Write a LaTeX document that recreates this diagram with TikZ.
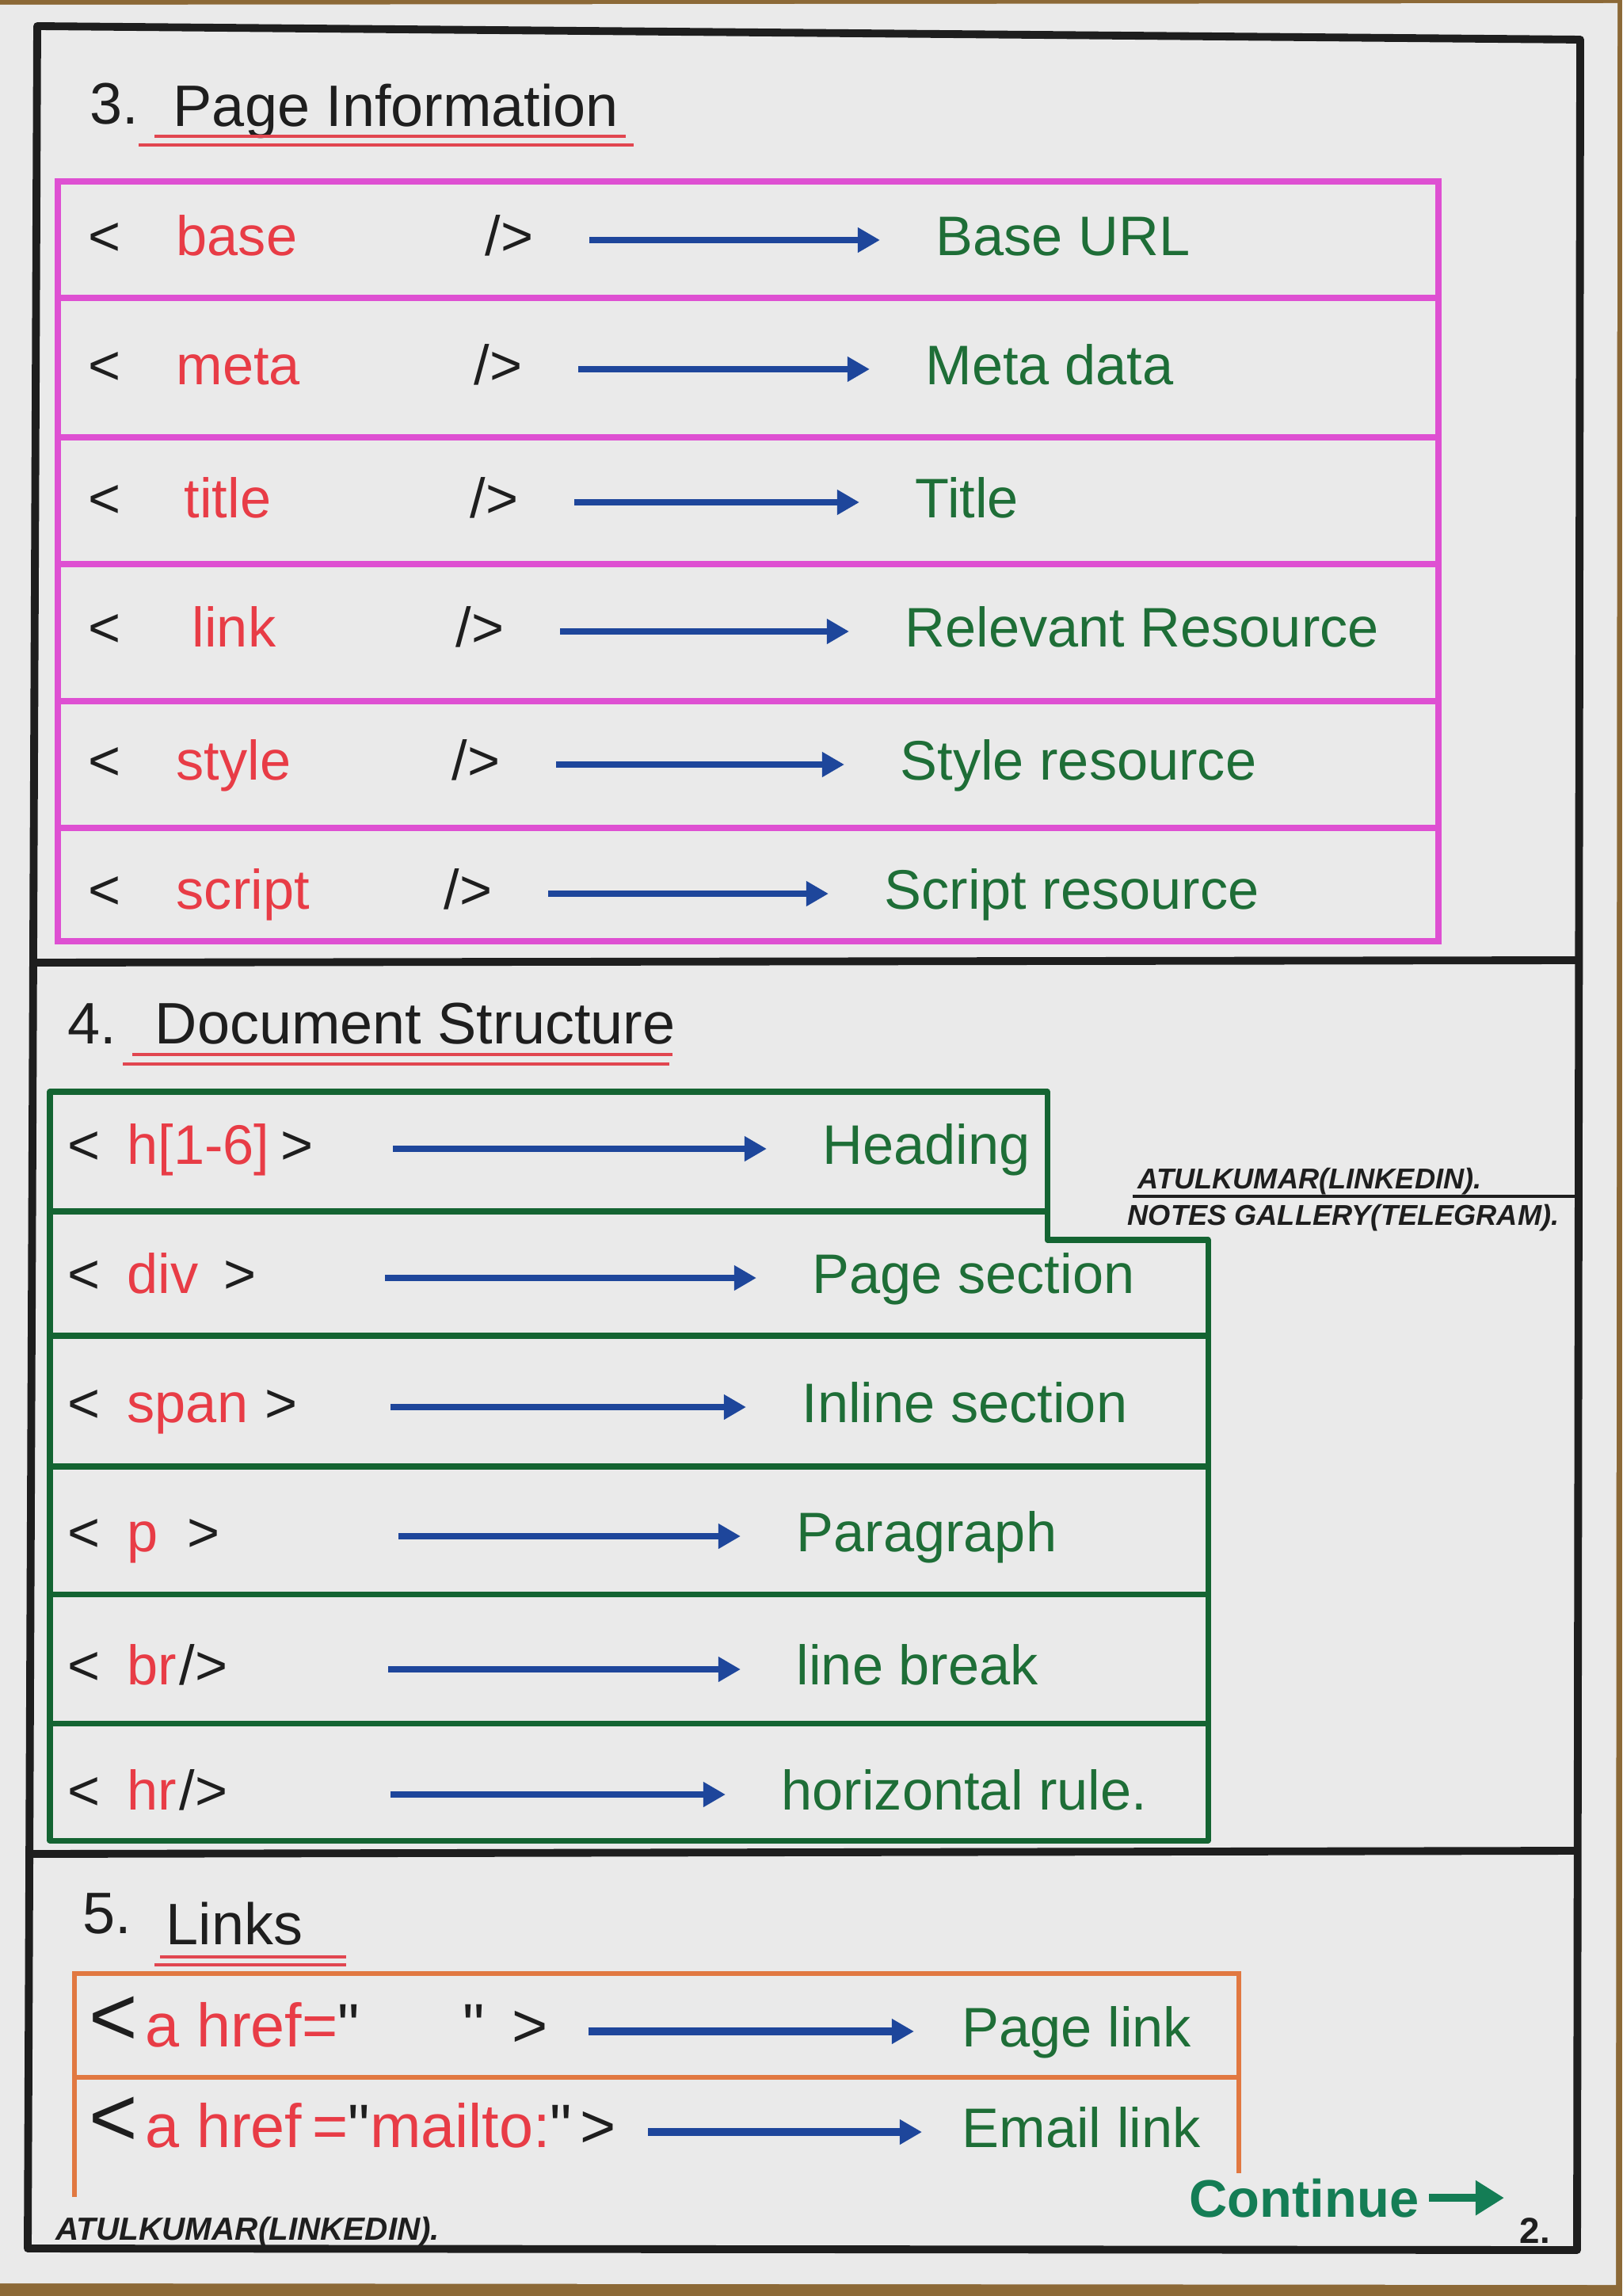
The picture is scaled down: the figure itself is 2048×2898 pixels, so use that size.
\documentclass[tikz,border=0pt]{standalone}
\usepackage{fontspec}
\setmainfont{Liberation Sans}[Ligatures=TeXOff]
\usetikzlibrary{arrows.meta,positioning}

\definecolor{wood}{RGB}{140,105,55}
\definecolor{paper}{RGB}{234,234,234}
\definecolor{ink}{RGB}{30,30,30}
\definecolor{pinkink}{RGB}{222,80,210}
\definecolor{greenink}{RGB}{20,100,50}
\definecolor{greendesc}{RGB}{30,110,55}
\definecolor{redink}{RGB}{232,60,70}
\definecolor{blueink}{RGB}{30,70,155}
\definecolor{orangeink}{RGB}{225,120,65}
\definecolor{contgreen}{RGB}{20,125,85}
\definecolor{redline}{RGB}{225,70,80}

\def\rowfont{\fontsize{20}{24}\selectfont}
\def\bigrowfont{\fontsize{22}{26}\selectfont}
\def\hdfont{\fontsize{21}{25}\selectfont}
\def\signfont{\fontsize{10.3}{12}\selectfont\bfseries\itshape}
\def\tu{0.7cm}

\tikzstyle{border} = [draw=ink,line width=2.8pt,line join=round]
\tikzstyle{pinkrule} = [draw=pinkink,line width=2.3pt]
\tikzstyle{greenrule} = [draw=greenink,line width=2pt,line join=round]
\tikzstyle{orangerule} = [draw=orangeink,line width=1.8pt]
\tikzstyle{brk} = [anchor=west,inner sep=0,text height=15pt,text depth=4pt,font=\rowfont,color=ink]
\tikzstyle{tagtext} = [brk,color=redink]
\tikzstyle{desc} = [brk,color=greendesc]
\tikzstyle{tagarrow} = [-{Triangle[length=0.28cm,width=0.3cm]},line width=2.4pt,color=blueink,shorten <=\tu,shorten >=\tu]
\tikzstyle{heading} = [anchor=base west,inner sep=0,font=\hdfont,color=ink]
\tikzstyle{underl} = [draw=redline,line width=1.1pt]
\tikzstyle{sign} = [anchor=base west,inner sep=0,font=\signfont,color=ink]

\begin{document}
\begin{tikzpicture}[x=0.01cm,y=-0.01cm]
\useasboundingbox (0,0) rectangle (2048,2898);
\fill[wood] (0,0) rectangle (2048,2898);
\fill[paper] (0,6) -- (2042,4) -- (2040,2884) -- (0,2882) -- cycle;

% page frame and section rules
\draw[border] (47,33) -- (1995,50) -- (1991,2840) -- (35,2838) -- cycle;
\draw[border] (43,1215) -- (1993,1212);
\draw[border] (39,2340) -- (1992,2336);

% 3. Page Information
\node[heading] (n3) at (113,157) {3.};
\node[heading] (h3) at (218,160) {Page Information};
\draw[underl] (195,172) -- (790,172);
\draw[underl] (175,183) -- (800,183);

\draw[pinkrule] (73,229) rectangle (1816,1188);
\draw[pinkrule] (73,376) -- (1816,376);
\draw[pinkrule] (73,552) -- (1816,552);
\draw[pinkrule] (73,712) -- (1816,712);
\draw[pinkrule] (73,885) -- (1816,885);
\draw[pinkrule] (73,1045) -- (1816,1045);

\node[brk] (p1l) at (111,303) {<};
\node[tagtext] (p1t) at (222,303) {base};
\node[brk] (p1e) at (612,303) {/>};
\node[desc] (p1d) at (1181,303) {Base URL};
\draw[tagarrow] (p1e) -- (p1d);

\node[brk] (p2l) at (111,466) {<};
\node[tagtext] (p2t) at (222,466) {meta};
\node[brk] (p2e) at (598,466) {/>};
\node[desc] (p2d) at (1168,466) {Meta data};
\draw[tagarrow] (p2e) -- (p2d);

\node[brk] (p3l) at (111,634) {<};
\node[tagtext] (p3t) at (232,634) {title};
\node[brk] (p3e) at (593,634) {/>};
\node[desc] (p3d) at (1155,634) {Title};
\draw[tagarrow] (p3e) -- (p3d);

\node[brk] (p4l) at (111,797) {<};
\node[tagtext] (p4t) at (242,797) {link};
\node[brk] (p4e) at (575,797) {/>};
\node[desc] (p4d) at (1142,797) {Relevant Resource};
\draw[tagarrow] (p4e) -- (p4d);

\node[brk] (p5l) at (111,965) {<};
\node[tagtext] (p5t) at (222,965) {style};
\node[brk] (p5e) at (570,965) {/>};
\node[desc] (p5d) at (1136,965) {Style resource};
\draw[tagarrow] (p5e) -- (p5d);

\node[brk] (p6l) at (111,1128) {<};
\node[tagtext] (p6t) at (222,1128) {script};
\node[brk] (p6e) at (560,1128) {/>};
\node[desc] (p6d) at (1116,1128) {Script resource};
\draw[tagarrow] (p6e) -- (p6d);

% 4. Document Structure
\node[heading] (n4) at (85,1317) {4.};
\node[heading] (h4) at (195,1317) {Document Structure};
\draw[underl] (167,1331) -- (849,1331);
\draw[underl] (155,1343) -- (845,1343);

\draw[greenrule] (63,1378) -- (1322,1378) -- (1322,1565) -- (1525,1565) -- (1525,2323) -- (63,2323) -- cycle;
\draw[greenrule] (63,1529) -- (1322,1529);
\draw[greenrule] (63,1686) -- (1525,1686);
\draw[greenrule] (63,1851) -- (1525,1851);
\draw[greenrule] (63,2012) -- (1525,2012);
\draw[greenrule] (63,2175) -- (1525,2175);

\node[brk] (d1l) at (85,1450) {<};
\node[tagtext] (d1t) at (160,1450) {h[1-6]};
\node[brk,right=0.13cm of d1t] (d1c) {>};
\coordinate (d1s) at (496,1450);
\node[desc] (d1d) at (1038,1450) {Heading};
\draw[tagarrow,shorten <=0pt] (d1s) -- (d1d);

\node[brk] (d2l) at (85,1613) {<};
\node[tagtext] (d2t) at (160,1613) {div};
\node[brk,right=0.3cm of d2t] (d2c) {>};
\coordinate (d2s) at (486,1613);
\node[desc] (d2d) at (1025,1613) {Page section};
\draw[tagarrow,shorten <=0pt] (d2s) -- (d2d);

\node[brk] (d3l) at (85,1776) {<};
\node[tagtext] (d3t) at (160,1776) {span};
\node[brk,right=0.2cm of d3t] (d3c) {>};
\coordinate (d3s) at (493,1776);
\node[desc] (d3d) at (1012,1776) {Inline section};
\draw[tagarrow,shorten <=0pt] (d3s) -- (d3d);

\node[brk] (d4l) at (85,1939) {<};
\node[tagtext] (d4t) at (160,1939) {p};
\node[brk,right=0.35cm of d4t] (d4c) {>};
\coordinate (d4s) at (503,1939);
\node[desc] (d4d) at (1005,1939) {Paragraph};
\draw[tagarrow,shorten <=0pt] (d4s) -- (d4d);

\node[brk] (d5l) at (85,2107) {<};
\node[tagtext] (d5t) at (160,2107) {br};
\node[brk,right=0.02cm of d5t] (d5c) {/>};
\coordinate (d5s) at (490,2107);
\node[desc] (d5d) at (1005,2107) {line break};
\draw[tagarrow,shorten <=0pt] (d5s) -- (d5d);

\node[brk] (d6l) at (85,2265) {<};
\node[tagtext] (d6t) at (160,2265) {hr};
\node[brk,right=0.02cm of d6t] (d6c) {/>};
\coordinate (d6s) at (493,2265);
\node[desc] (d6d) at (986,2265) {horizontal rule.};
\draw[tagarrow,shorten <=0pt] (d6s) -- (d6d);

% side note
\node[sign] (wm1) at (1436,1500) {ATULKUMAR(LINKEDIN).};
\draw[ink,line width=1.4pt] (1430,1510) -- (1991,1510);
\node[sign] (wm2) at (1423,1546) {NOTES GALLERY(TELEGRAM).};

% 5. Links
\node[heading] (n5) at (104,2440) {5.};
\node[heading] (h5) at (209,2454) {Links};
\draw[underl] (202,2470) -- (437,2470);
\draw[underl] (195,2480) -- (437,2480);

\draw[orangerule] (94,2773) -- (94,2491) -- (1564,2491) -- (1564,2743);
\draw[orangerule] (94,2622) -- (1564,2622);

\node[brk,font=\fontsize{30}{34}\selectfont] (a1l) at (112,2562) {<};
\node[tagtext,font=\bigrowfont] (a1t) at (183,2564) {a href=\textcolor{ink}{"\hspace{1.3cm}"\hspace{0.35cm}>}};
\node[desc] (a1d) at (1214,2564) {Page link};
\draw[tagarrow,line width=3pt,shorten <=0.5cm,shorten >=0.6cm] (a1t) -- (a1d);

\node[brk,font=\fontsize{30}{34}\selectfont] (a2l) at (112,2689) {<};
\node[tagtext,font=\bigrowfont] (a2t) at (183,2691) {a href\,=\textcolor{ink}{"}mailto:\textcolor{ink}{"\hspace{0.1cm}>}};
\node[desc] (a2d) at (1214,2691) {Email link};
\draw[tagarrow,line width=3pt,shorten <=0.4cm,shorten >=0.5cm] (a2t) -- (a2d);

% footer
\node[sign,font=\fontsize{11.5}{13}\selectfont\bfseries\itshape] (foot) at (70,2827) {ATULKUMAR(LINKEDIN).};
\node[anchor=base west,inner sep=0,font=\fontsize{19}{23}\selectfont\bfseries,color=contgreen] (cont) at (1501,2798) {Continue};
\path (cont.east) ++(107,0) coordinate (cend);
\draw[-{Triangle[length=0.36cm,width=0.42cm]},line width=3pt,color=contgreen,shorten <=0.12cm] (cont.east) -- (cend);
\node[anchor=base west,inner sep=0,font=\fontsize{13}{15}\selectfont\bfseries,color=ink] (pg) at (1918,2831) {2.};
\end{tikzpicture}
\end{document}
